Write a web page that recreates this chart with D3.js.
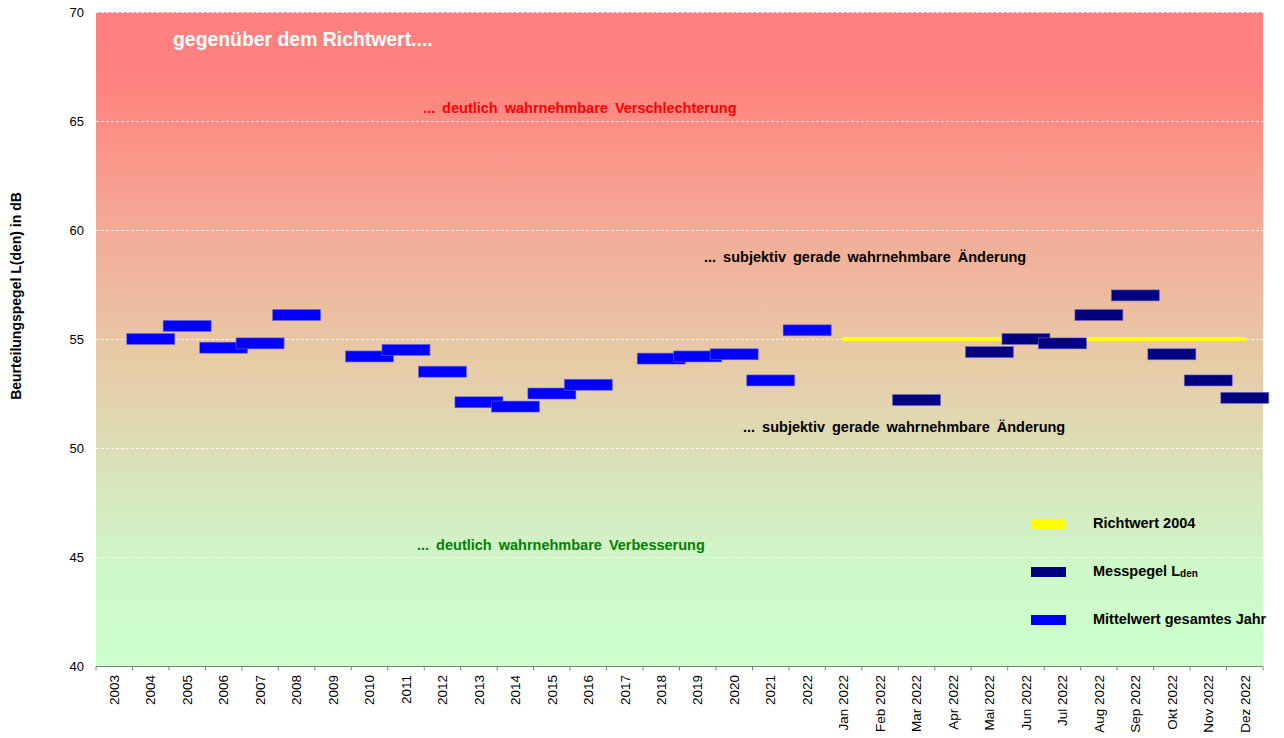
<!DOCTYPE html>
<html>
<head>
<meta charset="utf-8">
<script src="https://cdn.jsdelivr.net/npm/d3@7"></script>
<style>
  body { margin: 0; background: #fff; }
  svg { display: block; font-family: Arial, "Liberation Sans", sans-serif; }
</style>
</head>
<body>
<svg id="chart" width="1284" height="738"></svg>
<script>
// categories: yearly means 2003-2022, then the months of 2022
var years = ["2003","2004","2005","2006","2007","2008","2009","2010","2011","2012",
             "2013","2014","2015","2016","2017","2018","2019","2020","2021","2022"];
var months = ["Jan 2022","Feb 2022","Mar 2022","Apr 2022","Mai 2022","Jun 2022",
              "Jul 2022","Aug 2022","Sep 2022","Okt 2022","Nov 2022","Dez 2022"];
var categories = years.concat(months);

// Mittelwert gesamtes Jahr (dB)
var mittelwert = [null, 55.0, 55.6, 54.6, 54.8, 56.1, null, 54.2, 54.5, 53.5,
                  52.1, 51.9, 52.5, 52.9, null, 54.1, 54.2, 54.3, 53.1, 55.4];
// Messpegel Lden per month 2022 (dB)
var messpegel = [null, null, 52.2, null, 54.4, 55.0, 54.8, 56.1, 57.0, 54.3, 53.1, 52.3];
// Richtwert 2004
var richtwert = [55, 55, 55, 55, 55, 55, 55, 55, 55, 55, 55, 55];

var yTicks = [40, 45, 50, 55, 60, 65, 70];

var svg = d3.select("#chart");
var pL = 96, pR = 1263, pT = 12, pB = 666;

var x = d3.scaleBand().domain(categories).range([pL, pR]).padding(0);
var y = d3.scaleLinear().domain([40, 70]).range([pB, pT]);

// background gradient red -> green
var defs = svg.append("defs");
var grad = defs.append("linearGradient")
    .attr("id", "bg").attr("x1", 0).attr("y1", 0).attr("x2", 0).attr("y2", 1);
[["0%", "#FF7F7F"], ["12%", "#FF8480"], ["35%", "#F2AE98"], ["55%", "#E6CDA8"],
 ["70%", "#DAE2BA"], ["85%", "#CEF8C8"], ["100%", "#CCFFCC"]].forEach(function(s) {
    grad.append("stop").attr("offset", s[0]).attr("stop-color", s[1]);
});
svg.append("rect")
    .attr("x", pL).attr("y", pT)
    .attr("width", pR - pL).attr("height", pB - pT)
    .attr("fill", "url(#bg)");

// gridlines (70 is the dotted top edge)
svg.append("g").selectAll("line")
    .data(yTicks.filter(function(d) { return d > 40; }))
    .enter().append("line")
    .attr("x1", pL).attr("x2", pR)
    .attr("y1", function(d) { return y(d) + 0.5; })
    .attr("y2", function(d) { return y(d) + 0.5; })
    .style("stroke", "#fff")
    .style("stroke-width", 1)
    .style("stroke-dasharray", "3,2")
    .style("opacity", 0.85);

// y tick labels
svg.append("g").selectAll("text")
    .data(yTicks)
    .enter().append("text")
    .attr("x", 84)
    .attr("y", function(d) { return y(d); })
    .attr("dy", "0.35em")
    .attr("text-anchor", "end")
    .style("font-size", "13px")
    .style("fill", "#000")
    .text(function(d) { return d; });

// x axis line and ticks between categories
var xAxis = svg.append("g").attr("transform", "translate(0," + (pB + 0.5) + ")");
xAxis.append("line")
    .attr("x1", pL).attr("x2", pR)
    .style("stroke", "#808080").style("stroke-width", 1);
xAxis.selectAll(".tk")
    .data(categories.concat(["end"]))
    .enter().append("line")
    .attr("class", "tk")
    .attr("x1", function(d, i) { return pL + i * x.bandwidth(); })
    .attr("x2", function(d, i) { return pL + i * x.bandwidth(); })
    .attr("y1", 0).attr("y2", 4)
    .style("stroke", "#808080").style("stroke-width", 1);

svg.append("g").selectAll("text")
    .data(categories)
    .enter().append("text")
    .attr("transform", function(d) {
        return "translate(" + (x(d) + x.bandwidth() / 2) + "," + 675 + ") rotate(-90)";
    })
    .attr("dy", "0.35em")
    .attr("text-anchor", "end")
    .style("font-size", "13.5px")
    .text(function(d) { return d; });

// y axis title
svg.append("text")
    .attr("transform", "translate(21,296) rotate(-90)")
    .attr("text-anchor", "middle")
    .style("font-size", "14px")
    .style("font-weight", "bold")
    .text("Beurteilungspegel L(den) in dB");

// annotations
function note(txt, xx, yy, color, size, ws) {
    svg.append("text")
        .attr("x", xx).attr("y", yy)
        .style("font-size", size + "px")
        .style("font-weight", "bold")
        .style("word-spacing", ws + "px")
        .style("fill", color)
        .text(txt);
}
note("gegenüber dem Richtwert....", 173, 46, "#fff", 19.4, 0);
note("... deutlich wahrnehmbare Verschlechterung", 423, 113, "#FF0000", 14.5, 3);
note("... subjektiv gerade wahrnehmbare Änderung", 704, 262, "#000", 14.5, 3);
note("... subjektiv gerade wahrnehmbare Änderung", 743, 432, "#000", 14.5, 3);
note("... deutlich wahrnehmbare Verbesserung", 417, 550, "#008000", 14.5, 3);

// Richtwert line
var line = d3.line()
    .defined(function(d) { return d != null; })
    .x(function(d, i) { return x(months[i]) + x.bandwidth() / 2; })
    .y(function(d) { return y(d); });
svg.append("path")
    .datum(richtwert)
    .attr("d", line)
    .style("fill", "none")
    .style("stroke", "#FFFF00")
    .style("stroke-width", 4)
    .style("stroke-linecap", "round");

// bar-shaped markers
var barW = 48, barH = 11;
function marks(values, cats, color) {
    var data = values.map(function(v, i) { return { cat: cats[i], v: v }; })
        .filter(function(d) { return d.v != null; });
    svg.append("g").selectAll("rect")
        .data(data)
        .enter().append("rect")
        .attr("x", function(d) { return x(d.cat) + x.bandwidth() / 2 - barW / 2; })
        .attr("y", function(d) { return y(d.v) - barH / 2; })
        .attr("width", barW)
        .attr("height", barH)
        .style("fill", color)
        .style("stroke", "rgba(110,110,210,0.7)")
        .style("stroke-width", 0.8);
}
marks(messpegel, months, "#000080");
marks(mittelwert, years, "#0000FF");

// legend
var legend = [
    { label: "Richtwert 2004", color: "#FFFF00", y: 524 },
    { label: "Messpegel L", sub: "den", color: "#000080", y: 572 },
    { label: "Mittelwert gesamtes Jahr", color: "#0000FF", y: 620 }
];
var lg = svg.append("g").selectAll("g")
    .data(legend)
    .enter().append("g");
lg.append("rect")
    .attr("x", 1031).attr("y", function(d) { return d.y - 5; })
    .attr("width", 35).attr("height", 10)
    .style("fill", function(d) { return d.color; });
var lt = lg.append("text")
    .attr("x", 1093).attr("y", function(d) { return d.y + 4; })
    .style("font-size", "14.5px")
    .style("font-weight", "bold")
    .text(function(d) { return d.label; });
lt.filter(function(d) { return d.sub; })
    .append("tspan")
    .style("font-size", "10px")
    .attr("dy", 1)
    .text(function(d) { return d.sub; });
</script>
</body>
</html>
